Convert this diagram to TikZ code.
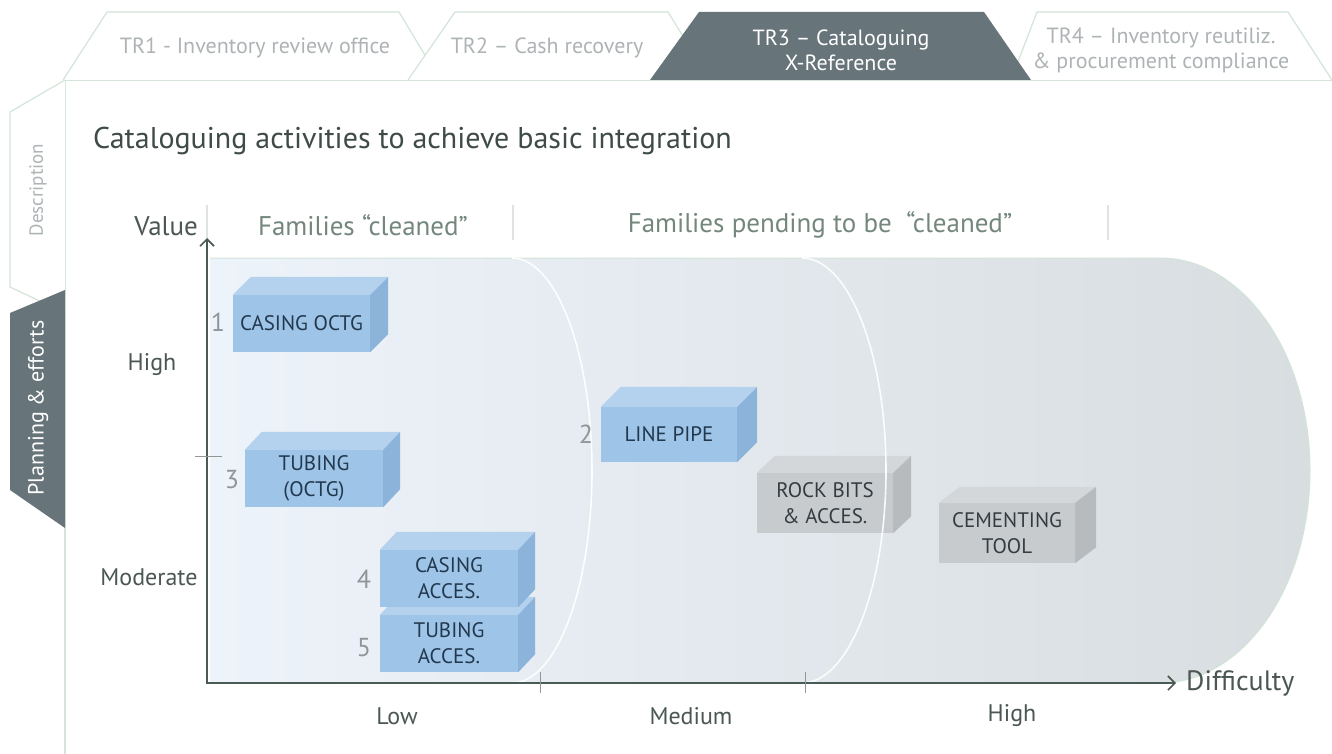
\documentclass[tikz,border=0pt]{standalone}
\usepackage{fontspec}
\setmainfont{PT Sans}
\usetikzlibrary{arrows.meta,calc}

\definecolor{titlec}{HTML}{3E4B46}
\definecolor{labelc}{HTML}{4B5752}
\definecolor{famc}{HTML}{74877D}
\definecolor{tabtext}{HTML}{AEB3B5}
\definecolor{tabline}{HTML}{D3E5D8}
\definecolor{darktabc}{HTML}{677479}
\definecolor{axisc}{HTML}{4B5A54}
\definecolor{tickc}{HTML}{8F9894}
\definecolor{numc}{HTML}{8F9598}
\definecolor{sepc}{HTML}{DFE4E1}
\definecolor{bluefront}{HTML}{9EC4E7}
\definecolor{bluetop}{HTML}{B4D2EE}
\definecolor{blueside}{HTML}{8CB3DA}
\definecolor{bluetext}{HTML}{22384F}
\definecolor{grayfront}{HTML}{C8CBCE}
\definecolor{graytop}{HTML}{D4D7D9}
\definecolor{grayside}{HTML}{B7BBBE}
\definecolor{graytext}{HTML}{353C40}
\definecolor{regleft}{HTML}{EDF3FA}
\definecolor{regright}{HTML}{D8DDE0}

% a cuboid: front face as a named node, top and side faces drawn from its anchors
% #1 name, #2 colour set, #3 #4 centre, #5 width, #6 height, #7 #8 depth, #9 text
\newcommand\cuboid[9]{%
  \node[#2front, minimum width=#5pt, minimum height=#6pt] (#1) at (#3,#4) {#9};
  \fill[#2top] (#1.north west) -- ++(#7,#8) -- ($(#1.north east)+(#7,#8)$) -- (#1.north east) -- cycle;
  \fill[#2side] (#1.north east) -- ++(#7,#8) -- ($(#1.south east)+(#7,#8)$) -- (#1.south east) -- cycle;
}

\begin{document}
\begin{tikzpicture}[x=1pt,y=-1pt,
  tabshape/.style={draw=tabline, line width=1.2pt, fill=white},
  tablabel/.style={text=tabtext, font=\fontsize{22}{25}\selectfont, align=center, inner sep=0pt},
  darklabel/.style={text=white, font=\fontsize{22}{25}\selectfont, align=center, inner sep=0pt},
  axisline/.style={draw=axisc, line width=2.2pt},
  tickline/.style={draw=tickc, line width=1pt},
  sepline/.style={draw=sepc, line width=1.2pt},
  axislabel/.style={text=labelc, font=\fontsize{24}{28}\selectfont, inner sep=0pt},
  famlabel/.style={text=famc, font=\fontsize{27}{30}\selectfont, inner sep=0pt},
  numlabel/.style={text=numc, font=\fontsize{26}{30}\selectfont, inner sep=0pt},
  boxfont/.style={inner sep=0pt, align=center, font=\fontsize{21}{26}\selectfont},
  bluefront/.style={fill=bluefront, text=bluetext, boxfont},
  bluetop/.style={fill=bluetop},
  blueside/.style={fill=blueside},
  grayfront/.style={fill=grayfront, text=graytext, boxfont},
  graytop/.style={fill=graytop},
  grayside/.style={fill=grayside},
  zoneline/.style={draw=white, line width=1.6pt, opacity=0.9}
]
\useasboundingbox (0,0) rectangle (1332,754);
\fill[white] (0,0) rectangle (1332,754);

% panel frame
\draw[draw=tabline, line width=1.2pt] (65,754) -- (65,80) -- (1332,80);

% top tabs
\draw[tabshape] (63,80) -- (107,12) -- (399,12) -- (440,80);
\draw[tabshape] (408,80) -- (455,12) -- (668,12) -- (710,80);
\draw[tabshape] (1011,80) -- (1037,12) -- (1288,12) -- (1332,80);
\fill[darktabc] (650,80) -- (699,12) -- (984,12) -- (1031,80) -- cycle;
\node[tablabel] (tr1) at (255,48) {TR1 - Inventory review office};
\node[tablabel] (tr2) at (547,48) {TR2 – Cash recovery};
\node[darklabel] (tr3) at (841,50) {TR3 – Cataloguing\\X-Reference};
\node[tablabel] (tr4) at (1161,50) {TR4 – Inventory reutiliz.\\\& procurement compliance};

% side tabs
\draw[tabshape] (65,80) -- (10,112) -- (10,287) -- (65,313);
\fill[darktabc] (65,290) -- (10,313) -- (10,490) -- (65,528) -- cycle;
\node[text=tabtext, font=\fontsize{19}{22}\selectfont, rotate=90, inner sep=0pt] (desc) at (38,190) {Description};
\node[text=white, font=\fontsize{22}{24}\selectfont, rotate=90, inner sep=0pt] (plan) at (38,408) {Planning \& efforts};

% title
\node[anchor=west, text=titlec, font=\fontsize{30}{34}\selectfont, inner sep=0pt] (title) at (93,141)
  {Cataloguing activities to achieve basic integration};

% column headers
\coordinate (s1a) at (207,205); \coordinate (s1b) at (207,238);
\coordinate (s2a) at (513,205); \coordinate (s2b) at (513,240);
\coordinate (s3a) at (1108,205); \coordinate (s3b) at (1108,240);
\draw[sepline] (s1a) -- (s1b);
\draw[sepline] (s2a) -- (s2b);
\draw[sepline] (s3a) -- (s3b);
\node[famlabel] (famclean) at (363,225) {Families “cleaned”};
\node[famlabel] (fampend) at (820,225) {Families pending to be \ “cleaned”};
\node[axislabel, anchor=east, font=\fontsize{27}{30}\selectfont] (value) at (198,226) {Value};

% difficulty zones
\shade[left color=regleft, right color=regright]
  (210,258) -- (1160,258) arc[start angle=-90, end angle=90, x radius=150, y radius=212.5]
  -- (210,683) -- cycle;
\draw[draw=tabline, line width=1pt]
  (210,258) -- (1160,258) arc[start angle=-90, end angle=90, x radius=150, y radius=212.5];

% families
\cuboid{b5}{blue}{449}{643.5}{138}{57}{17}{-18}{TUBING\\ACCES.}
\cuboid{b4}{blue}{449}{578.5}{138}{57}{17}{-18}{CASING\\ACCES.}
\cuboid{b1}{blue}{301.5}{323.5}{137}{57}{18}{-18}{CASING OCTG}
\cuboid{b3}{blue}{314}{478.5}{138}{57}{17}{-18}{TUBING\\(OCTG)}
\cuboid{b2}{blue}{669}{434.5}{136}{55}{20}{-20}{LINE PIPE}
\cuboid{rb}{gray}{825}{503}{136}{60}{18}{-17}{ROCK BITS\\\& ACCES.}
\cuboid{ct}{gray}{1007}{533}{136}{60}{21}{-16}{CEMENTING\\TOOL}

% zone boundaries
\draw[zoneline] (512,258) arc[start angle=-90, end angle=90, x radius=80, y radius=212.5];
\draw[zoneline] (802,258) arc[start angle=-90, end angle=90, x radius=84, y radius=212.5];

% numbering
\node[numlabel] (n1) at (218,322) {1};
\node[numlabel] (n2) at (586,434) {2};
\node[numlabel] (n3) at (232,480) {3};
\node[numlabel] (n4) at (364,579) {4};
\node[numlabel] (n5) at (364,648) {5};

% axes
\coordinate (O) at (207,683);
\coordinate (ytip) at (207,238);
\coordinate (xtip) at (1176,683);
\draw[axisline, {Straight Barb[length=7pt,width=14pt,line width=1.6pt]}-{Straight Barb[length=7pt,width=14pt,line width=1.6pt]}]
  (ytip) -- (O) -- (xtip);
\coordinate (ty1) at (195,456); \coordinate (ty2) at (222,456);
\coordinate (tx1a) at (540,672); \coordinate (tx1b) at (540,693);
\coordinate (tx2a) at (805,672); \coordinate (tx2b) at (805,693);
\draw[tickline] (ty1) -- (ty2);
\draw[tickline] (tx1a) -- (tx1b);
\draw[tickline] (tx2a) -- (tx2b);

% axis labels
\node[axislabel] (vhigh) at (152,365) {High};
\node[axislabel] (vmod) at (149,577) {Moderate};
\node[axislabel] (dlow) at (397,716) {Low};
\node[axislabel] (dmed) at (691,716) {Medium};
\node[axislabel] (dhigh) at (1012,716) {High};
\node[axislabel, anchor=west, font=\fontsize{28}{32}\selectfont] (diff) at (1186,683) {Difficulty};

\end{tikzpicture}
\end{document}
